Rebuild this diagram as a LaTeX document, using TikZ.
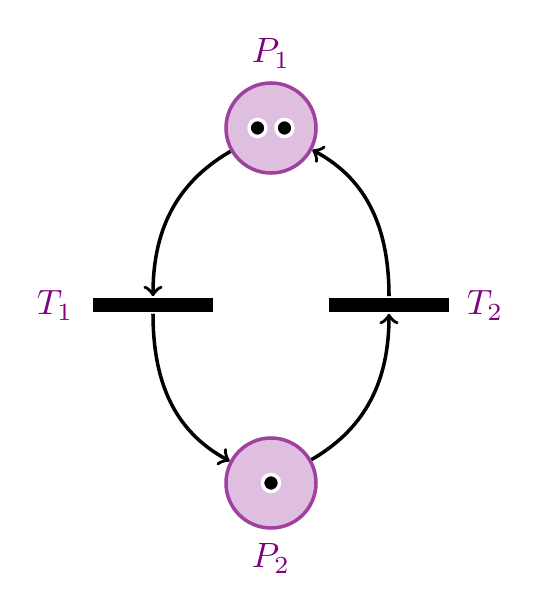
\documentclass[tikz,border=0pt]{standalone}
\usepackage{tikz}
\usetikzlibrary{arrows}
\usetikzlibrary{shapes}
\definecolor{netpurple}{RGB}{128,0,128}
\tikzset{
	every path/.style={line width=1pt},
	place/.style={
		draw=netpurple!75,
		fill=netpurple!25,
		circle,
		minimum size=0.9cm,
	},
	token/.style={
		draw=white,
		fill=black,
		circle,
		line width=1pt,
		inner sep=0pt,
		minimum size=0.17cm,
	},
	transition/.style={
		fill=black,
		rectangle,
		inner sep=0pt,
		minimum width=1.2cm,
		minimum height=0.14cm,
	},
	netlabel/.style={
		text=netpurple,
		anchor=base,
	},
	arc/.style={
		->,
	},
}

\begin{document}
\begin{tikzpicture}
		\useasboundingbox (0,0) rectangle (5.43,6.12);

		\node[place] (p1) at (2.71,4.84) {};
		\node[place] (p2) at (2.71,1.29) {};
		\node[transition] (t1) at (1.53,3.07) {};
		\node[transition] (t2) at (3.89,3.07) {};

		\node[token] (p1a) at (2.575,4.84) {};
		\node[token] (p1b) at (2.845,4.84) {};
		\node[token] (p2a) at (2.71,1.29) {};

		\node[netlabel] (p1l) at (2.71,5.49) {$P_1$};
		\node[netlabel] (p2l) at (2.71,0.44) {$P_2$};
		\node[netlabel] (t1l) at (0.55,2.97) {$T_1$};
		\node[netlabel] (t2l) at (4.85,2.97) {$T_2$};

		\draw[arc] (p1) to[out=210,in=90] (t1);
		\draw[arc] (t1) to[out=270,in=152] (p2);
		\draw[arc] (p2) to[out=30,in=270] (t2);
		\draw[arc] (t2) to[out=90,in=332] (p1);

	\end{tikzpicture}
\end{document}
